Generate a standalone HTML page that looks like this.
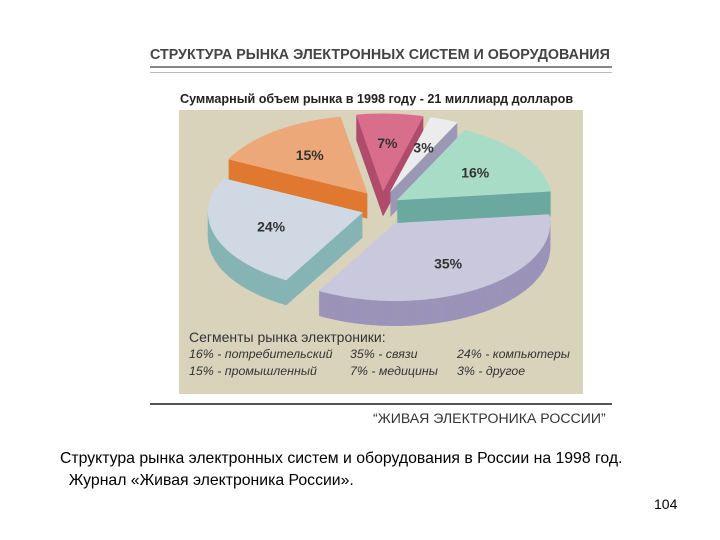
<!DOCTYPE html>
<html><head><meta charset="utf-8"><style>
body{margin:0;width:720px;height:540px;background:#fff;overflow:hidden;font-family:"Liberation Sans",sans-serif;position:relative}
.t{position:absolute;white-space:nowrap}
</style></head><body>
<div class="t" style="left:150px;top:47px;font-size:14.3px;font-weight:bold;color:#444;letter-spacing:0px">СТРУКТУРА РЫНКА ЭЛЕКТРОННЫХ СИСТЕМ И ОБОРУДОВАНИЯ</div>
<div style="position:absolute;left:150px;top:66px;width:462px;height:4px;border-top:2px solid #888;border-bottom:1px solid #bbb"></div>
<div class="t" style="left:180px;top:92px;font-size:12.6px;font-weight:bold;color:#222">Суммарный объем рынка в 1998 году - 21 миллиард долларов</div>
<div style="position:absolute;left:179px;top:110px;width:404px;height:284px;background:#d9d3bc"></div>
<svg id="pie" width="720" height="540" style="position:absolute;left:0;top:0"></svg>
<div class="t" style="left:189px;top:329px;font-size:14px;color:#333">Сегменты рынка электроники:</div>
<div class="t" style="left:189px;top:347px;font-size:12.4px;font-style:italic;color:#333">16% - потребительский</div>
<div class="t" style="left:189px;top:364px;font-size:12.4px;font-style:italic;color:#333">15% - промышленный</div>
<div class="t" style="left:350px;top:347px;font-size:12.4px;font-style:italic;color:#333">35% - связи</div>
<div class="t" style="left:350px;top:364px;font-size:12.4px;font-style:italic;color:#333">7% - медицины</div>
<div class="t" style="left:457px;top:347px;font-size:12.4px;font-style:italic;color:#333">24% - компьютеры</div>
<div class="t" style="left:457px;top:364px;font-size:12.4px;font-style:italic;color:#333">3% - другое</div>
<div style="position:absolute;left:150px;top:403px;width:462px;height:2px;background:#555"></div>
<div class="t" style="left:373px;top:410px;font-size:14.1px;color:#333">“ЖИВАЯ ЭЛЕКТРОНИКА РОССИИ”</div>
<div class="t" style="left:60px;top:448px;font-size:15.8px;color:#000;line-height:22px">Структура рынка электронных систем и оборудования в России на 1998 год.<br>&nbsp;&nbsp;Журнал «Живая электроника России».</div>
<div class="t" style="left:654px;top:496px;font-size:14px;color:#000">104</div>
<script>
const labels=["7%","3%","16%","35%","24%","15%"];
const values=[7,3,16,35,24,15];
const topColors=["#d96e8c","#ececec","#a8dcc6","#c9c8dc","#d0d9e3","#eca878"];
const sideColors=["#b04c6c","#9a98b4","#6aa8a0","#9b93b8","#86b4b4","#e07830"];
const names=["medical","other","consumer","telecom","computers","industrial"];
const svg=document.getElementById('pie');
const NS='http://www.w3.org/2000/svg';
const cx=382,cy=208,rx=155,ry=78,depth=25,startDeg=-10;
const total=values.reduce((a,b)=>a+b,0);
const explode=[22,22,18,24,20,24];
function pt(a,r,ox,oy){const t=a*Math.PI/180;return [cx+ox+Math.sin(t)*rx*r,cy+oy-Math.cos(t)*ry*r];}
function slicePath(a0,a1,ox,oy){
  let d=`M${cx+ox},${cy+oy}`;
  for(let a=a0;a<=a1;a+=1){const p=pt(a,1,ox,oy);d+=`L${p[0].toFixed(1)},${p[1].toFixed(1)}`;}
  const p=pt(a1,1,ox,oy);d+=`L${p[0].toFixed(1)},${p[1].toFixed(1)}Z`;return d;
}
const sl=[];let acc=startDeg;
values.forEach((v,i)=>{const a0=acc,a1=acc+v/total*360;acc=a1;const mid=(a0+a1)/2*Math.PI/180;
  sl.push({a0,a1,ox:Math.sin(mid)*explode[i],oy:-Math.cos(mid)*explode[i]*0.75,mid});});
for(let d=depth;d>=1;d--){
  sl.forEach((s,i)=>{const p=document.createElementNS(NS,'path');
    p.setAttribute('d',slicePath(s.a0,s.a1,s.ox,s.oy+d));p.setAttribute('fill',sideColors[i]);
    
    
    svg.appendChild(p);});
}
sl.forEach((s,i)=>{const p=document.createElementNS(NS,'path');
  p.setAttribute('d',slicePath(s.a0,s.a1,s.ox,s.oy));p.setAttribute('fill',topColors[i]);
  
  
  svg.appendChild(p);
  const lp=pt((s.a0+s.a1)/2,0.62,s.ox,s.oy);
  const t=document.createElementNS(NS,'text');
  t.setAttribute('x',lp[0]);t.setAttribute('y',lp[1]+5);t.setAttribute('text-anchor','middle');
  t.setAttribute('font-family','Liberation Sans, sans-serif');t.setAttribute('font-weight','bold');
  t.setAttribute('font-size','14');t.setAttribute('fill','#333');t.textContent=labels[i];
  
  
  svg.appendChild(t);});
</script>
</body></html>
